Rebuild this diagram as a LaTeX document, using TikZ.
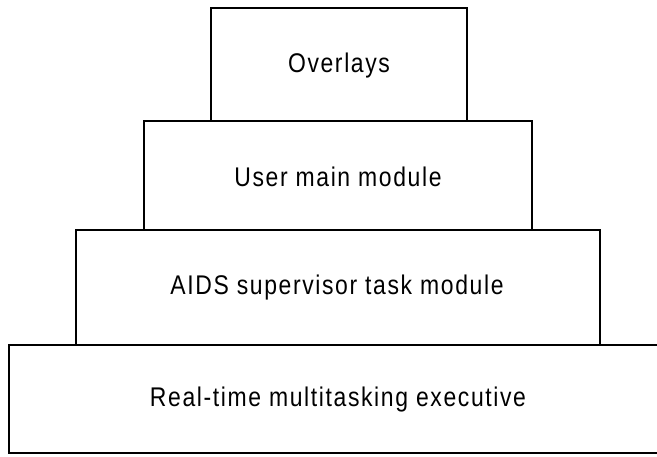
\documentclass[tikz,border=0pt]{standalone}
\usepackage{fontspec}
\setmainfont{Liberation Sans}
\newfontfamily\labfont[FakeStretch=0.85,LetterSpace=6]{Liberation Sans}
\begin{document}
\begin{tikzpicture}[x=1pt,y=-1pt,
  layer/.style={draw=black,line width=1.6pt,fill=white},
  lbl/.style={font=\labfont\fontsize{27}{31}\selectfont,inner sep=0pt}]
\useasboundingbox (0,0) rectangle (657,457);
\fill[white] (0,0) rectangle (657,457);
% boxes
\draw[layer] (211,8) rectangle (467,121);
\draw[layer] (144,121) rectangle (532,230);
\draw[layer] (76,230) rectangle (600,345);
\draw[layer] (9,345) rectangle (660,453);
% labels
\node[lbl] (ov) at (339,66) {Overlays};
\node[lbl] (um) at (338,177) {User main module};
\node[lbl] (ai) at (337,288) {AIDS supervisor task module};
\node[lbl] (rt) at (338,400) {Real-time multitasking executive};
\end{tikzpicture}
\end{document}
